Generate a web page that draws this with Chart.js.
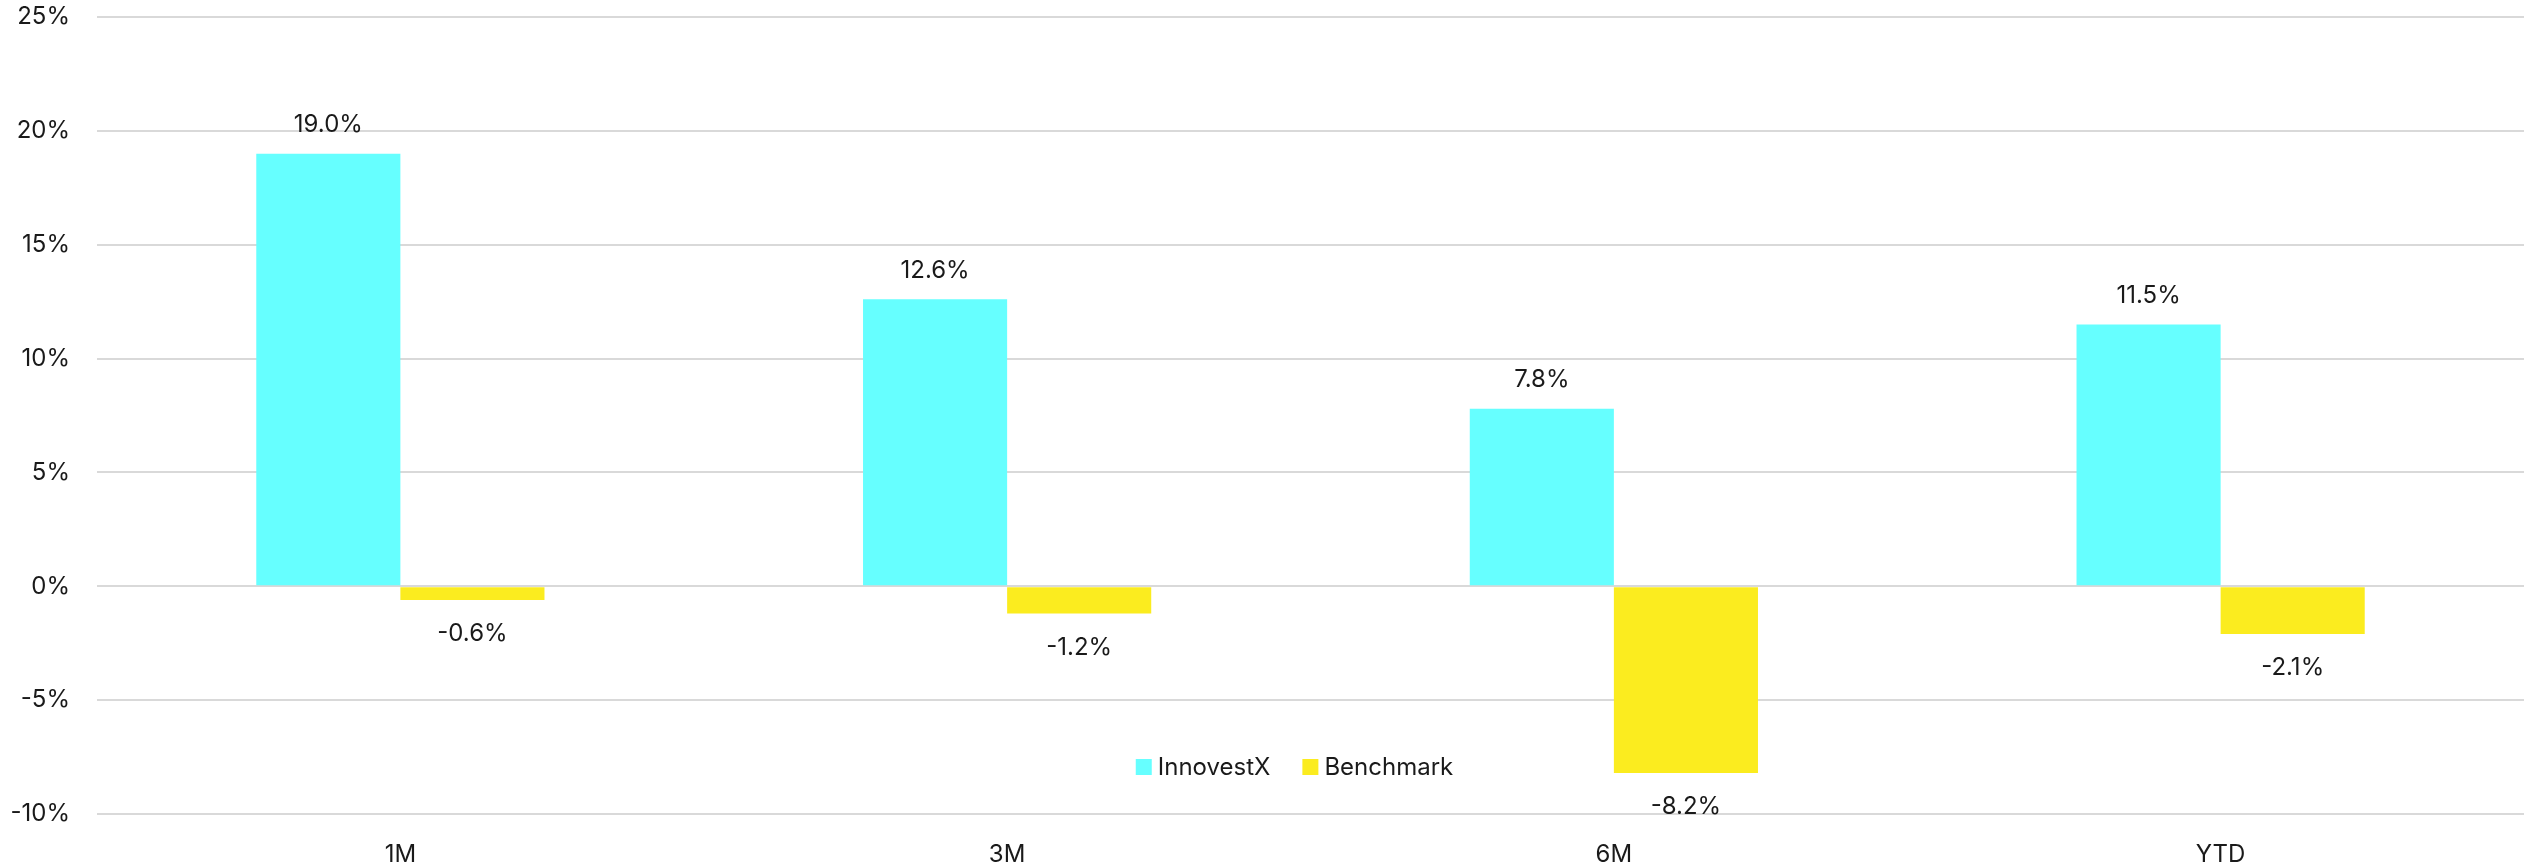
<!DOCTYPE html>
<html>
<head>
<meta charset="utf-8">
<script src="https://cdn.jsdelivr.net/npm/chart.js@4/dist/chart.umd.min.js"></script>
<style>
  html, body { margin: 0; padding: 0; background: #ffffff; }
  #wrap { width: 2529px; height: 863px; position: relative; }
</style>
</head>
<body>
<div id="wrap"><canvas id="c" width="2529" height="863"></canvas></div>
<script>
const categories = ['1M', '3M', '6M', 'YTD'];
const seriesNames = ['InnovestX', 'Benchmark'];
const innovestX = [19.0, 12.6, 7.8, 11.5];
const benchmark = [-0.6, -1.2, -8.2, -2.1];
const yTicks = [-10, -5, 0, 5, 10, 15, 20, 25];

const FONT = 'Inter, "Noto Sans", sans-serif';
const TEXT = '#1a1a1a';
const colors = ['#66ffff', '#fbec1f'];

const valueLabels = {
  id: 'valueLabels',
  afterDatasetsDraw(chart) {
    const ctx = chart.ctx;
    ctx.save();
    ctx.font = '24px ' + FONT;
    ctx.fillStyle = TEXT;
    ctx.textAlign = 'center';
    ctx.textBaseline = 'middle';
    chart.data.datasets.forEach((ds, di) => {
      const meta = chart.getDatasetMeta(di);
      meta.data.forEach((bar, i) => {
        const v = ds.data[i];
        const y = v >= 0 ? bar.y - 29 : bar.y + 34;
        ctx.fillText(v.toFixed(1) + '%', bar.x, y);
      });
    });
    ctx.restore();
  }
};

const innerLegend = {
  id: 'innerLegend',
  afterDraw(chart) {
    const ctx = chart.ctx;
    const a = chart.chartArea;
    ctx.save();
    ctx.font = '24px ' + FONT;
    ctx.textBaseline = 'middle';
    ctx.textAlign = 'left';
    const box = 16, gapBox = 6, gapItem = 32;
    const items = chart.data.datasets.map(d => ({ label: d.label, color: d.backgroundColor, w: box + gapBox + ctx.measureText(d.label).width }));
    const total = items.reduce((s, it) => s + it.w, 0) + gapItem * (items.length - 1);
    let x = (a.left + a.right) / 2 - 16 - total / 2;
    const cy = a.bottom - 47;
    items.forEach(it => {
      ctx.fillStyle = it.color;
      ctx.fillRect(x, cy - box / 2, box, box);
      ctx.fillStyle = TEXT;
      ctx.fillText(it.label, x + box + gapBox, cy + 1);
      x += it.w + gapItem;
    });
    ctx.restore();
  }
};

new Chart(document.getElementById('c'), {
  type: 'bar',
  data: {
    labels: categories,
    datasets: [
      { label: seriesNames[0], data: innovestX, backgroundColor: colors[0] },
      { label: seriesNames[1], data: benchmark, backgroundColor: colors[1] }
    ]
  },
  options: {
    responsive: false,
    animation: false,
    devicePixelRatio: 1,
    layout: { padding: { top: 17, right: 5, left: 0, bottom: 0 } },
    datasets: { bar: { categoryPercentage: 0.475, barPercentage: 1.0 } },
    plugins: { legend: { display: false }, tooltip: { enabled: false } },
    scales: {
      x: {
        grid: { display: false, drawTicks: false },
        border: { display: false },
        ticks: { color: TEXT, font: { family: FONT, size: 24 }, padding: 26 },
        afterFit(s) { s.height = 49; s.paddingLeft = 0; s.paddingRight = 0; }
      },
      y: {
        min: -10, max: 25,
        afterBuildTicks(s) { s.ticks = yTicks.map(v => ({ value: v })); },
        grid: { color: '#d9d9d9', lineWidth: 2, drawTicks: false },
        border: { display: false },
        ticks: { color: TEXT, font: { family: FONT, size: 24 }, padding: 27, callback: v => v + '%' },
        afterFit(s) { s.width = 97; s.paddingTop = 0; s.paddingBottom = 0; }
      }
    }
  },
  plugins: [valueLabels, innerLegend]
});
</script>
</body>
</html>
